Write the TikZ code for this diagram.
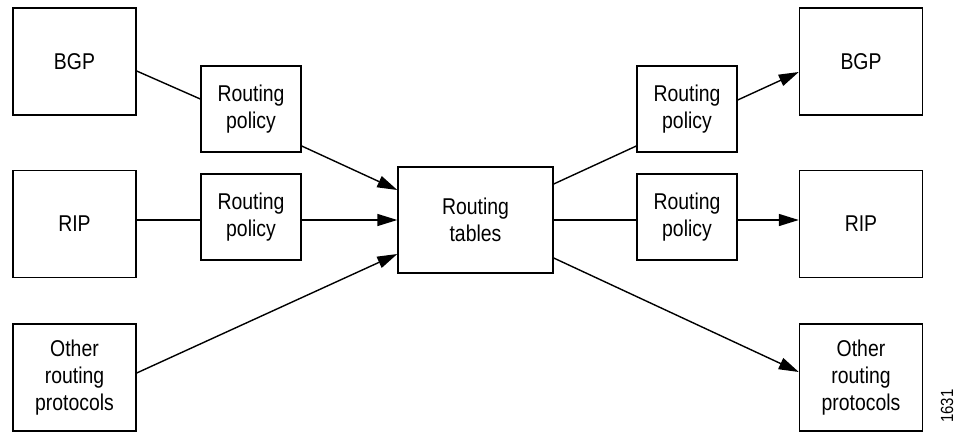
\documentclass[tikz,border=0pt]{standalone}
\usepackage{fontspec}
\setmainfont{Liberation Sans}[FakeStretch=0.85]
\usetikzlibrary{arrows.meta}
\tikzset{
  boxtext/.style={font={\fontsize{13}{15.2}\selectfont},align=center,inner sep=0pt},
  proto/.style={draw,boxtext,minimum width=2.46cm,minimum height=2.14cm},
  policy/.style={draw,boxtext,minimum width=2cm,minimum height=1.72cm},
  tables/.style={draw,boxtext,minimum width=3.1cm,minimum height=2.12cm},
}
\begin{document}
\begin{tikzpicture}[>={Triangle[length=0.4cm,width=0.24cm]},line width=0.8pt]
    \useasboundingbox (0,0) rectangle (19.2,8.62);
    % incoming side
    \node[proto] (bgpin) at (1.49,7.39) {BGP};
    \node[proto] (ripin) at (1.49,4.14) {RIP};
    \node[proto] (otherin) at (1.49,1.07) {Other\\routing\\protocols};
    \node[policy] (polbgpin) at (5.02,6.44) {Routing\\policy};
    \node[policy] (polripin) at (5.02,4.28) {Routing\\policy};
    % routing tables
    \node[tables] (rt) at (9.51,4.22) {Routing\\tables};
    % outgoing side
    \node[policy] (polbgpout) at (13.74,6.44) {Routing\\policy};
    \node[policy] (polripout) at (13.74,4.28) {Routing\\policy};
    \node[proto] (bgpout) at (17.22,7.39) {BGP};
    \node[proto] (ripout) at (17.22,4.14) {RIP};
    \node[proto] (otherout) at (17.22,1.07) {Other\\routing\\protocols};
    \node[rotate=90,font={\fontsize{10}{11}\selectfont},inner sep=0pt] (fignum) at (18.94,0.5) {1631};
    % connectors
    \draw ([yshift=-0.19cm]bgpin.east) -- ([yshift=0.2cm]polbgpin.west);
    \draw[->] ([yshift=-0.74cm]polbgpin.east) -- ([yshift=0.6cm]rt.west);
    \draw (ripin.east |- rt) -- (polripin.west |- rt);
    \draw[->] (polripin.east |- rt) -- (rt.west);
    \draw[->] ([yshift=0.09cm]otherin.east) -- ([yshift=-0.68cm]rt.west);
    \draw ([yshift=0.72cm]rt.east) -- ([yshift=-0.74cm]polbgpout.west);
    \draw[->] ([yshift=0.18cm]polbgpout.east) -- ([yshift=-0.21cm]bgpout.west);
    \draw (rt.east) -- (polripout.west |- rt);
    \draw[->] (polripout.east |- rt) -- (ripout.west |- rt);
    \draw[->] ([yshift=-0.76cm]rt.east) -- ([yshift=0.11cm]otherout.west);
\end{tikzpicture}
\end{document}
